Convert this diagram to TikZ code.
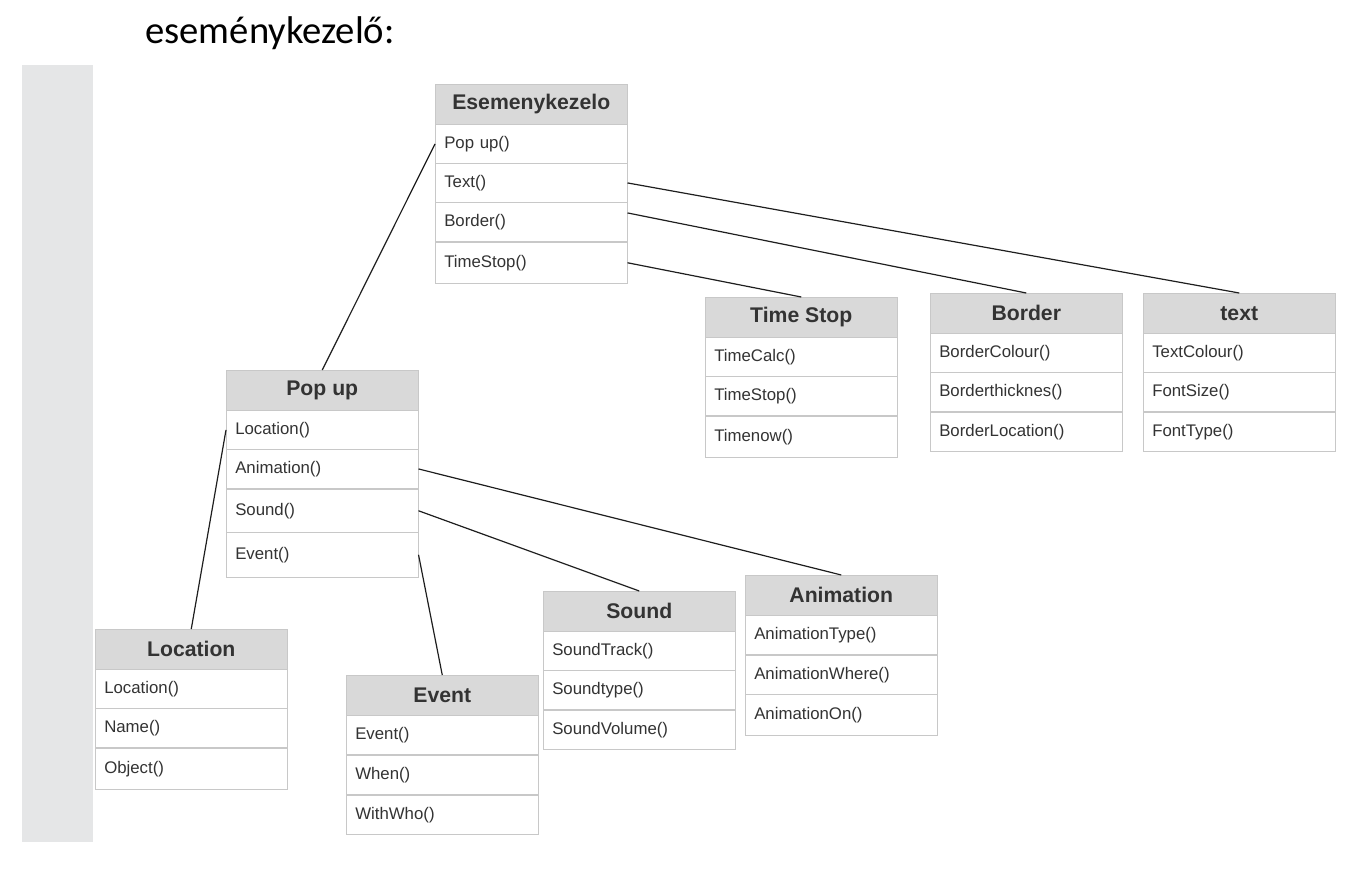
\documentclass[tikz,border=0pt]{standalone}
\usepackage{fontspec}
\setmainfont{Liberation Sans}
\newfontfamily\titlefont{Carlito}
\definecolor{boxline}{RGB}{200,200,200}
\definecolor{hdrfill}{RGB}{217,217,217}
\definecolor{sidebar}{RGB}{229,230,231}
\definecolor{inktext}{RGB}{51,51,51}
\definecolor{linkline}{RGB}{30,30,30}

\begin{document}
\begin{tikzpicture}[x=0.75pt,y=0.75pt,yscale=-1,xscale=1,
    hdr/.style={draw=boxline, fill=hdrfill, anchor=north west, minimum width=144pt, minimum height=30pt, inner sep=0pt, text=inktext, font=\fontsize{15.9}{18}\selectfont\bfseries},
    mrow/.style={draw=boxline, fill=white, anchor=north west, text width=130.5pt, inner xsep=6.75pt, inner ysep=0pt, minimum height=29.5pt, align=left, text=inktext, font=\fontsize{12.6}{15}\selectfont},
    link/.style={draw=linkline, line width=0.9pt}]
    \useasboundingbox (0,0) rectangle (1361,889);

    %Side bar
    \fill[sidebar] (22,65) rectangle (93,842);

    % Title
    \node[anchor=base west, inner sep=0pt] (title) at (145,43) {\titlefont\fontsize{29}{33}\selectfont eseménykezelő:};

    % Esemenykezelo
    \node[hdr] (esk-h) at (435,84) {Esemenykezelo};
    \node[mrow] (esk-1) at (435,124) {Pop up()};
    \node[mrow] (esk-2) at (435,163) {Text()};
    \node[mrow] (esk-3) at (435,202) {Border()};
    \node[mrow, minimum height=30.75pt] (esk-4) at (435,242) {TimeStop()};

    % Pop up
    \node[hdr] (pop-h) at (226,370) {Pop up};
    \node[mrow] (pop-1) at (226,410) {Location()};
    \node[mrow] (pop-2) at (226,449) {Animation()};
    \node[mrow, minimum height=32.25pt] (pop-3) at (226,489) {Sound()};
    \node[mrow, minimum height=33.75pt] (pop-4) at (226,532) {Event()};

    % Time Stop
    \node[hdr] (tst-h) at (705,297) {Time Stop};
    \node[mrow] (tst-1) at (705,337) {TimeCalc()};
    \node[mrow] (tst-2) at (705,376) {TimeStop()};
    \node[mrow, minimum height=30.75pt] (tst-3) at (705,416) {Timenow()};

    % Border
    \node[hdr] (brd-h) at (930,293) {Border};
    \node[mrow] (brd-1) at (930,333) {BorderColour()};
    \node[mrow] (brd-2) at (930,372) {Borderthicknes()};
    \node[mrow] (brd-3) at (930,412) {BorderLocation()};

    % text
    \node[hdr] (txt-h) at (1143,293) {text};
    \node[mrow] (txt-1) at (1143,333) {TextColour()};
    \node[mrow] (txt-2) at (1143,372) {FontSize()};
    \node[mrow] (txt-3) at (1143,412) {FontType()};

    % Location
    \node[hdr] (loc-h) at (95,629) {Location};
    \node[mrow] (loc-1) at (95,669) {Location()};
    \node[mrow] (loc-2) at (95,708) {Name()};
    \node[mrow, minimum height=30.75pt] (loc-3) at (95,748) {Object()};

    % Event
    \node[hdr] (evt-h) at (346,675) {Event};
    \node[mrow] (evt-1) at (346,715) {Event()};
    \node[mrow] (evt-2) at (346,755) {When()};
    \node[mrow] (evt-3) at (346,795) {WithWho()};

    % Sound
    \node[hdr] (snd-h) at (543,591) {Sound};
    \node[mrow] (snd-1) at (543,631) {SoundTrack()};
    \node[mrow] (snd-2) at (543,670) {Soundtype()};
    \node[mrow] (snd-3) at (543,710) {SoundVolume()};

    % Animation
    \node[hdr] (ani-h) at (745,575) {Animation};
    \node[mrow] (ani-1) at (745,615) {AnimationType()};
    \node[mrow] (ani-2) at (745,655) {AnimationWhere()};
    \node[mrow, minimum height=30.75pt] (ani-3) at (745,694) {AnimationOn()};

    %Straight Lines
    \draw[link] (esk-1.west) -- (pop-h.north);
    \draw[link] (esk-2.east) -- (txt-h.north);
    \draw[link] ([yshift=-6.75pt]esk-3.east) -- (brd-h.north);
    \draw[link] (esk-4.east) -- (tst-h.north);
    \draw[link] (pop-1.west) -- (loc-h.north);
    \draw[link] (pop-2.east) -- (ani-h.north);
    \draw[link] (pop-3.east) -- (snd-h.north);
    \draw[link] (pop-4.east) -- (evt-h.north);

\end{tikzpicture}
\end{document}
